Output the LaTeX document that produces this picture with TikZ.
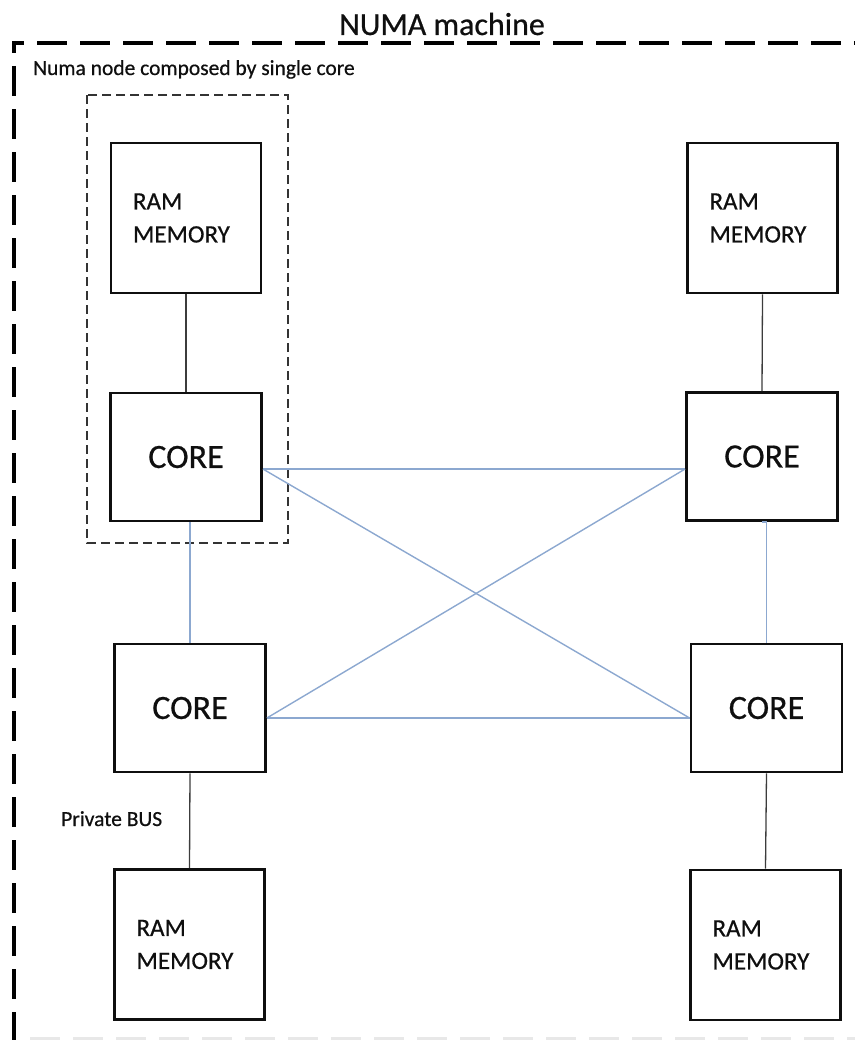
\documentclass[tikz,border=0pt]{standalone}
\usepackage{fontspec}
\setmainfont[FakeBold=0.6]{Carlito}
\usetikzlibrary{calc}
\definecolor{linkblue}{RGB}{140,168,208}
\definecolor{busgray}{RGB}{60,60,60}
\definecolor{inkblack}{RGB}{15,15,15}
\begin{document}
\begin{tikzpicture}[x=1pt,y=-1pt,
  box/.style={draw=inkblack, line width=2.8pt, inner sep=0pt, text=inkblack},
  membox/.style={box, minimum height=150pt, text width=106pt, inner xsep=22pt,
    align=left, font=\fontsize{25}{33}\selectfont},
  corebox/.style={box, minimum width=151pt, minimum height=128pt,
    font=\fontsize{34}{40}\selectfont},
  bus/.style={draw=busgray, line width=1.3pt},
  link/.style={draw=linkblue, line width=1.4pt},
  caption/.style={font=\fontsize{21.5}{26}\selectfont, inner sep=0pt,
    anchor=base west, text=inkblack},
  frame/.style={line width=4pt, dash pattern=on 30pt off 13pt},
]
\useasboundingbox (0,0) rectangle (854,1041);

% machine frame
\draw[frame, dash phase=18pt] (12,43) -- (870,43);
\draw[frame, dash phase=18pt] (14,41) -- (14,1040);
\draw[frame, line width=3pt, draw=black!9] (30,1038) -- (870,1038);

\node[anchor=base, inner sep=0pt, text=inkblack, font=\fontsize{32}{38}\selectfont]
  (title) at (442,35) {NUMA machine};
\node[caption] (nodelabel) at (33,75) {Numa node composed by single core};

% numa node boundary
\draw[draw=black!80, line width=1.3pt, dash pattern=on 9pt off 5pt]
  (87,95) rectangle (288,543);

% memories
\node[membox] (ramtl) at (186,218) {RAM\\MEMORY};
\node[membox] (ramtr) at (762.5,218) {RAM\\MEMORY};
\node[membox] (rambl) at (189.5,944.5) {RAM\\MEMORY};
\node[membox] (rambr) at (765.5,945) {RAM\\MEMORY};

% cores
\node[corebox] (coretl) at (186,457) {CORE};
\node[corebox] (coretr) at (762,456.5) {CORE};
\node[corebox] (corebl) at (190,708) {CORE};
\node[corebox] (corebr) at (766.5,708) {CORE};

% private buses
\draw[bus] (ramtl.south) -- (coretl.north);
\draw[bus] (ramtr.south) -- (coretr.north);
\draw[bus] (corebl.south) -- (rambl.north);
\draw[bus] (corebr.south) -- (rambr.north);
\node[caption] (buslabel) at (61,826) {Private BUS};

% interconnect
\coordinate (ptl) at ($(coretl.east)+(0,12)$);
\coordinate (ptr) at ($(coretr.west)+(0,12.5)$);
\coordinate (pbl) at ($(corebl.east)+(0,10)$);
\coordinate (pbr) at ($(corebr.west)+(0,10)$);
\draw[link] (ptl) -- (ptr);
\draw[link] (pbl) -- (pbr);
\draw[link] (ptl) -- (pbr);
\draw[link] (pbl) -- (ptr);
\draw[link] (corebl.north |- coretl.south) -- (corebl.north);
\draw[link] (coretr.south) -- (coretr.south -| corebr.north) -- (corebr.north);
\end{tikzpicture}
\end{document}
